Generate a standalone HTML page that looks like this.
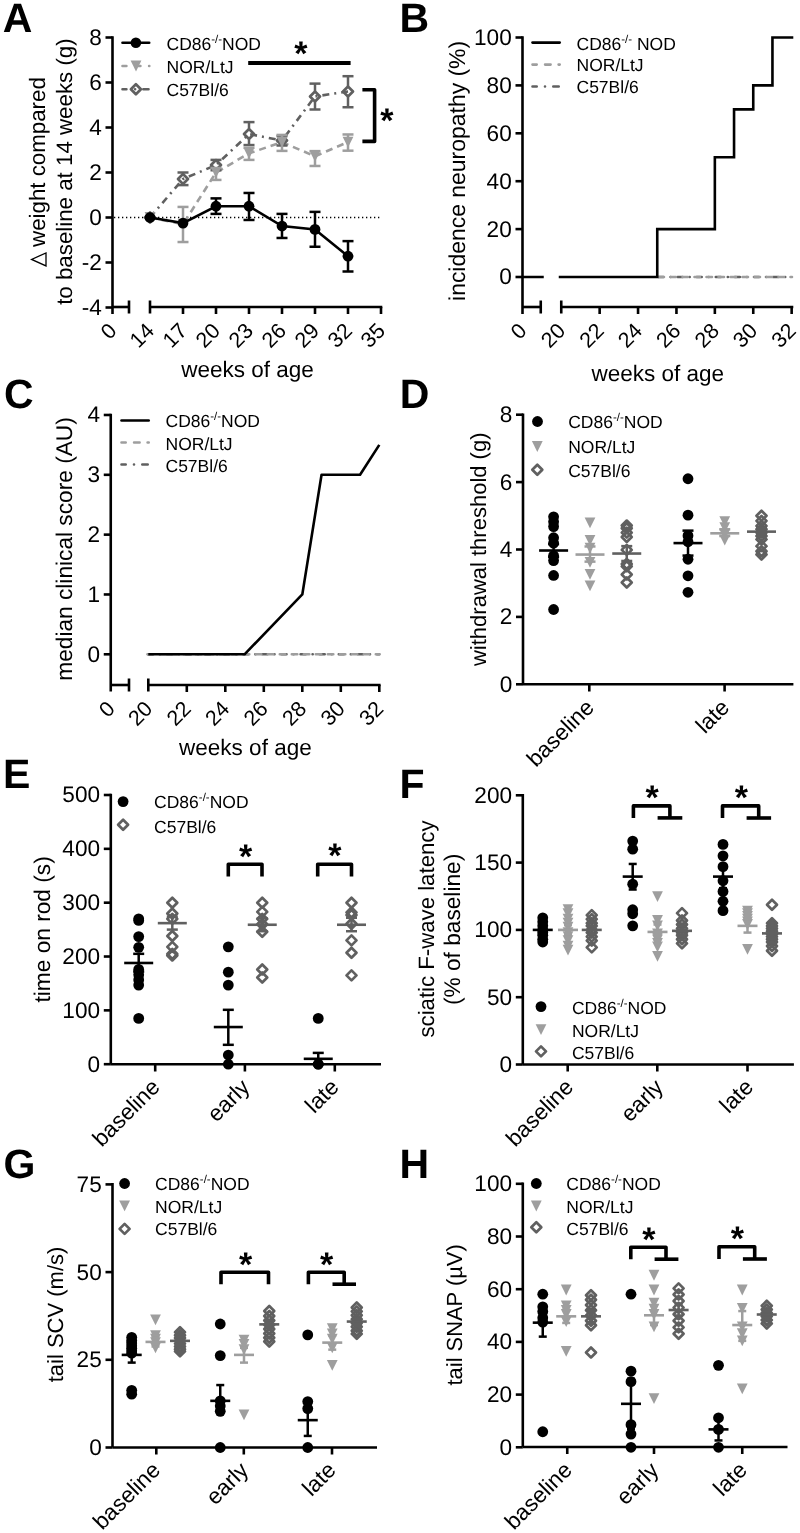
<!DOCTYPE html>
<html><head><meta charset="utf-8"><style>
html,body{margin:0;padding:0;background:#fff;overflow:hidden;}
svg{display:block;filter:grayscale(100%);}
text{font-family:"Liberation Sans",sans-serif;text-rendering:geometricPrecision;}
</style></head><body>
<svg width="800" height="1533" viewBox="0 0 800 1533">
<rect width="800" height="1533" fill="#fff"/>
<text x="2.8" y="32" font-size="41" font-weight="bold">A</text>
<line x1="112.5" y1="36.2" x2="112.5" y2="314" stroke="#000" stroke-width="2.6"/>
<line x1="105.5" y1="37.5" x2="112.5" y2="37.5" stroke="#000" stroke-width="2.6"/>
<text x="101.75" y="44.9" font-size="22.6" text-anchor="end">8</text>
<line x1="105.5" y1="82.5" x2="112.5" y2="82.5" stroke="#000" stroke-width="2.6"/>
<text x="101.75" y="89.9" font-size="22.6" text-anchor="end">6</text>
<line x1="105.5" y1="127.5" x2="112.5" y2="127.5" stroke="#000" stroke-width="2.6"/>
<text x="101.75" y="134.9" font-size="22.6" text-anchor="end">4</text>
<line x1="105.5" y1="172.5" x2="112.5" y2="172.5" stroke="#000" stroke-width="2.6"/>
<text x="101.75" y="179.9" font-size="22.6" text-anchor="end">2</text>
<line x1="105.5" y1="217.5" x2="112.5" y2="217.5" stroke="#000" stroke-width="2.6"/>
<text x="101.75" y="224.9" font-size="22.6" text-anchor="end">0</text>
<line x1="105.5" y1="262.5" x2="112.5" y2="262.5" stroke="#000" stroke-width="2.6"/>
<text x="101.75" y="269.9" font-size="22.6" text-anchor="end">-2</text>
<line x1="105.5" y1="307.5" x2="112.5" y2="307.5" stroke="#000" stroke-width="2.6"/>
<text x="101.75" y="314.9" font-size="22.6" text-anchor="end">-4</text>
<line x1="112.5" y1="307" x2="129" y2="307" stroke="#000" stroke-width="2.6"/>
<line x1="129" y1="300.5" x2="129" y2="313.5" stroke="#000" stroke-width="2.6"/>
<line x1="150" y1="300.5" x2="150" y2="313.5" stroke="#000" stroke-width="2.6"/>
<line x1="150" y1="307" x2="382.3" y2="307" stroke="#000" stroke-width="2.6"/>
<line x1="183" y1="307" x2="183" y2="314" stroke="#000" stroke-width="2.6"/>
<line x1="216" y1="307" x2="216" y2="314" stroke="#000" stroke-width="2.6"/>
<line x1="249" y1="307" x2="249" y2="314" stroke="#000" stroke-width="2.6"/>
<line x1="282" y1="307" x2="282" y2="314" stroke="#000" stroke-width="2.6"/>
<line x1="315" y1="307" x2="315" y2="314" stroke="#000" stroke-width="2.6"/>
<line x1="348" y1="307" x2="348" y2="314" stroke="#000" stroke-width="2.6"/>
<line x1="381" y1="307" x2="381" y2="314" stroke="#000" stroke-width="2.6"/>
<text x="118" y="332" font-size="21.5" text-anchor="end" transform="rotate(-45 118 332)">0</text>
<text x="155.5" y="332" font-size="21.5" text-anchor="end" transform="rotate(-45 155.5 332)">14</text>
<text x="188.5" y="332" font-size="21.5" text-anchor="end" transform="rotate(-45 188.5 332)">17</text>
<text x="221.5" y="332" font-size="21.5" text-anchor="end" transform="rotate(-45 221.5 332)">20</text>
<text x="254.5" y="332" font-size="21.5" text-anchor="end" transform="rotate(-45 254.5 332)">23</text>
<text x="287.5" y="332" font-size="21.5" text-anchor="end" transform="rotate(-45 287.5 332)">26</text>
<text x="320.5" y="332" font-size="21.5" text-anchor="end" transform="rotate(-45 320.5 332)">29</text>
<text x="353.5" y="332" font-size="21.5" text-anchor="end" transform="rotate(-45 353.5 332)">32</text>
<text x="386.5" y="332" font-size="21.5" text-anchor="end" transform="rotate(-45 386.5 332)">35</text>
<text x="247.5" y="377" font-size="22.5" text-anchor="middle">weeks of age</text>
<text x="45.2" y="172" font-size="22.3" text-anchor="middle" transform="rotate(-90 45.2 172)"><tspan fill-opacity="0">&#916;</tspan> weight compared</text>
<path d="M46 252.9 V265.9 L31.6 259.4 Z" stroke="#000" stroke-width="1.3" fill="none" stroke-linejoin="miter"/>
<text x="72.3" y="171.6" font-size="22.3" text-anchor="middle" transform="rotate(-90 72.3 171.6)">to baseline at 14 weeks (g)</text>
<line x1="114" y1="217.5" x2="381" y2="217.5" stroke="#000" stroke-width="1.3" stroke-dasharray="1.3 2.7"/>
<path d="M150 217.5 L183 179.03 L216 165.07 L249 134.03 L282 140.55 L315 96.45 L348 91.5" stroke="#606060" stroke-width="2.6" fill="none" stroke-dasharray="7 5 2 5"/>
<path d="M150 217.5 L183 224.25 L216 172.5 L249 153.38 L282 142.12 L315 156.3 L348 142.12" stroke="#9e9e9e" stroke-width="2.6" fill="none" stroke-dasharray="7 5"/>
<line x1="183" y1="185.1" x2="183" y2="184.53" stroke="#606060" stroke-width="2.5"/>
<line x1="183" y1="173.53" x2="183" y2="172.5" stroke="#606060" stroke-width="2.5"/>
<line x1="177.5" y1="185.1" x2="188.5" y2="185.1" stroke="#606060" stroke-width="2.5"/>
<line x1="177.5" y1="172.5" x2="188.5" y2="172.5" stroke="#606060" stroke-width="2.5"/>
<line x1="216" y1="170.25" x2="216" y2="170.57" stroke="#606060" stroke-width="2.5"/>
<line x1="216" y1="159.57" x2="216" y2="159.9" stroke="#606060" stroke-width="2.5"/>
<line x1="210.5" y1="170.25" x2="221.5" y2="170.25" stroke="#606060" stroke-width="2.5"/>
<line x1="210.5" y1="159.9" x2="221.5" y2="159.9" stroke="#606060" stroke-width="2.5"/>
<line x1="249" y1="145.05" x2="249" y2="139.53" stroke="#606060" stroke-width="2.5"/>
<line x1="249" y1="128.53" x2="249" y2="122.1" stroke="#606060" stroke-width="2.5"/>
<line x1="243.5" y1="145.05" x2="254.5" y2="145.05" stroke="#606060" stroke-width="2.5"/>
<line x1="243.5" y1="122.1" x2="254.5" y2="122.1" stroke="#606060" stroke-width="2.5"/>
<line x1="282" y1="145.5" x2="282" y2="146.05" stroke="#606060" stroke-width="2.5"/>
<line x1="282" y1="135.05" x2="282" y2="136.05" stroke="#606060" stroke-width="2.5"/>
<line x1="276.5" y1="145.5" x2="287.5" y2="145.5" stroke="#606060" stroke-width="2.5"/>
<line x1="276.5" y1="136.05" x2="287.5" y2="136.05" stroke="#606060" stroke-width="2.5"/>
<line x1="315" y1="109.5" x2="315" y2="101.95" stroke="#606060" stroke-width="2.5"/>
<line x1="315" y1="90.95" x2="315" y2="83.62" stroke="#606060" stroke-width="2.5"/>
<line x1="309.5" y1="109.5" x2="320.5" y2="109.5" stroke="#606060" stroke-width="2.5"/>
<line x1="309.5" y1="83.62" x2="320.5" y2="83.62" stroke="#606060" stroke-width="2.5"/>
<line x1="348" y1="107.25" x2="348" y2="97" stroke="#606060" stroke-width="2.5"/>
<line x1="348" y1="86" x2="348" y2="76.2" stroke="#606060" stroke-width="2.5"/>
<line x1="342.5" y1="107.25" x2="353.5" y2="107.25" stroke="#606060" stroke-width="2.5"/>
<line x1="342.5" y1="76.2" x2="353.5" y2="76.2" stroke="#606060" stroke-width="2.5"/>
<path d="M150 212.5L155 217.5L150 222.5L145 217.5Z" fill="none" stroke="#606060" stroke-width="2.7" stroke-linejoin="round"/>
<path d="M183 174.03L188 179.03L183 184.03L178 179.03Z" fill="none" stroke="#606060" stroke-width="2.7" stroke-linejoin="round"/>
<path d="M216 160.07L221 165.07L216 170.07L211 165.07Z" fill="none" stroke="#606060" stroke-width="2.7" stroke-linejoin="round"/>
<path d="M249 129.03L254 134.03L249 139.03L244 134.03Z" fill="none" stroke="#606060" stroke-width="2.7" stroke-linejoin="round"/>
<path d="M282 135.55L287 140.55L282 145.55L277 140.55Z" fill="none" stroke="#606060" stroke-width="2.7" stroke-linejoin="round"/>
<path d="M315 91.45L320 96.45L315 101.45L310 96.45Z" fill="none" stroke="#606060" stroke-width="2.7" stroke-linejoin="round"/>
<path d="M348 86.5L353 91.5L348 96.5L343 91.5Z" fill="none" stroke="#606060" stroke-width="2.7" stroke-linejoin="round"/>
<line x1="183" y1="242.03" x2="183" y2="206.93" stroke="#9e9e9e" stroke-width="2.5"/>
<line x1="177.5" y1="242.03" x2="188.5" y2="242.03" stroke="#9e9e9e" stroke-width="2.5"/>
<line x1="177.5" y1="206.93" x2="188.5" y2="206.93" stroke="#9e9e9e" stroke-width="2.5"/>
<line x1="216" y1="179.93" x2="216" y2="168" stroke="#9e9e9e" stroke-width="2.5"/>
<line x1="210.5" y1="179.93" x2="221.5" y2="179.93" stroke="#9e9e9e" stroke-width="2.5"/>
<line x1="210.5" y1="168" x2="221.5" y2="168" stroke="#9e9e9e" stroke-width="2.5"/>
<line x1="249" y1="159.9" x2="249" y2="147.75" stroke="#9e9e9e" stroke-width="2.5"/>
<line x1="243.5" y1="159.9" x2="254.5" y2="159.9" stroke="#9e9e9e" stroke-width="2.5"/>
<line x1="243.5" y1="147.75" x2="254.5" y2="147.75" stroke="#9e9e9e" stroke-width="2.5"/>
<line x1="282" y1="150.9" x2="282" y2="134.93" stroke="#9e9e9e" stroke-width="2.5"/>
<line x1="276.5" y1="150.9" x2="287.5" y2="150.9" stroke="#9e9e9e" stroke-width="2.5"/>
<line x1="276.5" y1="134.93" x2="287.5" y2="134.93" stroke="#9e9e9e" stroke-width="2.5"/>
<line x1="315" y1="165.97" x2="315" y2="151.12" stroke="#9e9e9e" stroke-width="2.5"/>
<line x1="309.5" y1="165.97" x2="320.5" y2="165.97" stroke="#9e9e9e" stroke-width="2.5"/>
<line x1="309.5" y1="151.12" x2="320.5" y2="151.12" stroke="#9e9e9e" stroke-width="2.5"/>
<line x1="348" y1="150.68" x2="348" y2="134.47" stroke="#9e9e9e" stroke-width="2.5"/>
<line x1="342.5" y1="150.68" x2="353.5" y2="150.68" stroke="#9e9e9e" stroke-width="2.5"/>
<line x1="342.5" y1="134.47" x2="353.5" y2="134.47" stroke="#9e9e9e" stroke-width="2.5"/>
<path d="M144.6 212.1H155.4L150 222.9Z" fill="#9e9e9e"/>
<path d="M177.6 218.85H188.4L183 229.65Z" fill="#9e9e9e"/>
<path d="M210.6 167.1H221.4L216 177.9Z" fill="#9e9e9e"/>
<path d="M243.6 147.97H254.4L249 158.78Z" fill="#9e9e9e"/>
<path d="M276.6 136.72H287.4L282 147.53Z" fill="#9e9e9e"/>
<path d="M309.6 150.9H320.4L315 161.7Z" fill="#9e9e9e"/>
<path d="M342.6 136.72H353.4L348 147.53Z" fill="#9e9e9e"/>
<path d="M150 217.5 L183 223.12 L216 206.25 L249 206.25 L282 226.05 L315 229.43 L348 256.2" stroke="#000" stroke-width="2.6" fill="none"/>
<line x1="216" y1="213.9" x2="216" y2="198.38" stroke="#000" stroke-width="2.5"/>
<line x1="210.5" y1="213.9" x2="221.5" y2="213.9" stroke="#000" stroke-width="2.5"/>
<line x1="210.5" y1="198.38" x2="221.5" y2="198.38" stroke="#000" stroke-width="2.5"/>
<line x1="249" y1="219.97" x2="249" y2="192.97" stroke="#000" stroke-width="2.5"/>
<line x1="243.5" y1="219.97" x2="254.5" y2="219.97" stroke="#000" stroke-width="2.5"/>
<line x1="243.5" y1="192.97" x2="254.5" y2="192.97" stroke="#000" stroke-width="2.5"/>
<line x1="282" y1="237.97" x2="282" y2="213.9" stroke="#000" stroke-width="2.5"/>
<line x1="276.5" y1="237.97" x2="287.5" y2="237.97" stroke="#000" stroke-width="2.5"/>
<line x1="276.5" y1="213.9" x2="287.5" y2="213.9" stroke="#000" stroke-width="2.5"/>
<line x1="315" y1="246.75" x2="315" y2="211.88" stroke="#000" stroke-width="2.5"/>
<line x1="309.5" y1="246.75" x2="320.5" y2="246.75" stroke="#000" stroke-width="2.5"/>
<line x1="309.5" y1="211.88" x2="320.5" y2="211.88" stroke="#000" stroke-width="2.5"/>
<line x1="348" y1="271.5" x2="348" y2="241.12" stroke="#000" stroke-width="2.5"/>
<line x1="342.5" y1="271.5" x2="353.5" y2="271.5" stroke="#000" stroke-width="2.5"/>
<line x1="342.5" y1="241.12" x2="353.5" y2="241.12" stroke="#000" stroke-width="2.5"/>
<circle cx="150" cy="217.5" r="5.4" fill="#000"/>
<circle cx="183" cy="223.12" r="5.4" fill="#000"/>
<circle cx="216" cy="206.25" r="5.4" fill="#000"/>
<circle cx="249" cy="206.25" r="5.4" fill="#000"/>
<circle cx="282" cy="226.05" r="5.4" fill="#000"/>
<circle cx="315" cy="229.43" r="5.4" fill="#000"/>
<circle cx="348" cy="256.2" r="5.4" fill="#000"/>
<line x1="248.2" y1="63" x2="350.6" y2="63" stroke="#000" stroke-width="4"/>
<text x="294.37" y="65.47" font-size="34" font-weight="bold">*</text>
<path d="M362.4 89.8 H374.6 V141.4 H362.4" stroke="#000" stroke-width="3.6" fill="none" stroke-linejoin="round"/>
<text x="380.37" y="132.17" font-size="34" font-weight="bold">*</text>
<path d="M122.5 42.8H149.21" stroke="#000" stroke-width="2.6" stroke-linecap="round" fill="none"/>
<circle cx="135.9" cy="42.8" r="5.3" fill="#000"/>
<path d="M122.5 66H126.41M138.5 66H140.41M149.1 66H149.31" stroke="#9e9e9e" stroke-width="2.6" stroke-linecap="round" fill="none"/>
<path d="M130.6 60.6H141.4L136 71.4Z" fill="#9e9e9e"/>
<path d="M122.5 89.2H126.41M135.1 89.2H135.11M143.3 89.2H148.51" stroke="#606060" stroke-width="2.6" stroke-linecap="round" fill="none"/>
<path d="M135.9 84.2L140.9 89.2L135.9 94.2L130.9 89.2Z" fill="none" stroke="#606060" stroke-width="2.7" stroke-linejoin="round"/>
<text x="166.5" y="49.7" font-size="17.5">CD86<tspan font-size="11.5" dy="-7">-/-</tspan><tspan dy="7">NOD</tspan></text>
<text x="166.5" y="72.7" font-size="17.5">NOR/LtJ</text>
<text x="166.5" y="95.7" font-size="17.5">C57Bl/6</text>
<text x="399.6" y="32" font-size="41" font-weight="bold">B</text>
<line x1="522.5" y1="36.2" x2="522.5" y2="314" stroke="#000" stroke-width="2.6"/>
<line x1="515.5" y1="37.5" x2="522.5" y2="37.5" stroke="#000" stroke-width="2.6"/>
<text x="511.75" y="44.9" font-size="22.6" text-anchor="end">100</text>
<line x1="515.5" y1="85.4" x2="522.5" y2="85.4" stroke="#000" stroke-width="2.6"/>
<text x="511.75" y="92.8" font-size="22.6" text-anchor="end">80</text>
<line x1="515.5" y1="133.3" x2="522.5" y2="133.3" stroke="#000" stroke-width="2.6"/>
<text x="511.75" y="140.7" font-size="22.6" text-anchor="end">60</text>
<line x1="515.5" y1="181.2" x2="522.5" y2="181.2" stroke="#000" stroke-width="2.6"/>
<text x="511.75" y="188.6" font-size="22.6" text-anchor="end">40</text>
<line x1="515.5" y1="229.1" x2="522.5" y2="229.1" stroke="#000" stroke-width="2.6"/>
<text x="511.75" y="236.5" font-size="22.6" text-anchor="end">20</text>
<line x1="515.5" y1="277" x2="522.5" y2="277" stroke="#000" stroke-width="2.6"/>
<text x="511.75" y="284.4" font-size="22.6" text-anchor="end">0</text>
<line x1="522.5" y1="307" x2="540.75" y2="307" stroke="#000" stroke-width="2.6"/>
<line x1="540.75" y1="300.5" x2="540.75" y2="313.5" stroke="#000" stroke-width="2.6"/>
<line x1="561.25" y1="300.5" x2="561.25" y2="313.5" stroke="#000" stroke-width="2.6"/>
<line x1="561.25" y1="307" x2="793.3" y2="307" stroke="#000" stroke-width="2.6"/>
<line x1="599.65" y1="307" x2="599.65" y2="314" stroke="#000" stroke-width="2.6"/>
<line x1="638.05" y1="307" x2="638.05" y2="314" stroke="#000" stroke-width="2.6"/>
<line x1="676.45" y1="307" x2="676.45" y2="314" stroke="#000" stroke-width="2.6"/>
<line x1="714.85" y1="307" x2="714.85" y2="314" stroke="#000" stroke-width="2.6"/>
<line x1="753.25" y1="307" x2="753.25" y2="314" stroke="#000" stroke-width="2.6"/>
<line x1="791.65" y1="307" x2="791.65" y2="314" stroke="#000" stroke-width="2.6"/>
<text x="528" y="332" font-size="21.5" text-anchor="end" transform="rotate(-45 528 332)">0</text>
<text x="566.75" y="332" font-size="21.5" text-anchor="end" transform="rotate(-45 566.75 332)">20</text>
<text x="605.15" y="332" font-size="21.5" text-anchor="end" transform="rotate(-45 605.15 332)">22</text>
<text x="643.55" y="332" font-size="21.5" text-anchor="end" transform="rotate(-45 643.55 332)">24</text>
<text x="681.95" y="332" font-size="21.5" text-anchor="end" transform="rotate(-45 681.95 332)">26</text>
<text x="720.35" y="332" font-size="21.5" text-anchor="end" transform="rotate(-45 720.35 332)">28</text>
<text x="758.75" y="332" font-size="21.5" text-anchor="end" transform="rotate(-45 758.75 332)">30</text>
<text x="797.15" y="332" font-size="21.5" text-anchor="end" transform="rotate(-45 797.15 332)">32</text>
<text x="657.75" y="380.5" font-size="22.5" text-anchor="middle">weeks of age</text>
<text x="465.4" y="170.9" font-size="22.95" text-anchor="middle" transform="rotate(-90 465.4 170.9)">incidence neuropathy (%)</text>
<line x1="658.5" y1="277" x2="792" y2="277" stroke="#606060" stroke-width="2.6" stroke-dasharray="5 7 0.1 7" stroke-linecap="round"/>
<line x1="658.5" y1="277" x2="792" y2="277" stroke="#9e9e9e" stroke-width="2.6" stroke-dasharray="5.5 6.5" stroke-linecap="round"/>
<path d="M523 277 H543.75 M558.75 277 H657.25 V229.1 H714.85 V157.25 H734.05 V109.35 H753.25 V85.4 H772.45 V37.5 H793.3" stroke="#000" stroke-width="2.6" fill="none"/>
<path d="M532.5 42.6H559.71" stroke="#000" stroke-width="2.6" stroke-linecap="round" fill="none"/>
<path d="M532.5 64.6H536.71M545.1 64.6H550.61M558.6 64.6H559.71" stroke="#9e9e9e" stroke-width="2.6" stroke-linecap="round" fill="none"/>
<path d="M532.5 86.5H536.71M545 86.5H545.01M553.3 86.5H558.71" stroke="#606060" stroke-width="2.6" stroke-linecap="round" fill="none"/>
<text x="576.5" y="49.7" font-size="17.5">CD86<tspan font-size="11.5" dy="-7">-/-</tspan><tspan dy="7"> NOD</tspan></text>
<text x="576.5" y="71.2" font-size="17.5">NOR/LtJ</text>
<text x="576.5" y="92.7" font-size="17.5">C57Bl/6</text>
<text x="3.9" y="408" font-size="41" font-weight="bold">C</text>
<line x1="110.75" y1="413.68" x2="110.75" y2="691.5" stroke="#000" stroke-width="2.6"/>
<line x1="103.75" y1="414.98" x2="110.75" y2="414.98" stroke="#000" stroke-width="2.6"/>
<text x="100" y="422.38" font-size="22.6" text-anchor="end">4</text>
<line x1="103.75" y1="474.81" x2="110.75" y2="474.81" stroke="#000" stroke-width="2.6"/>
<text x="100" y="482.21" font-size="22.6" text-anchor="end">3</text>
<line x1="103.75" y1="534.64" x2="110.75" y2="534.64" stroke="#000" stroke-width="2.6"/>
<text x="100" y="542.04" font-size="22.6" text-anchor="end">2</text>
<line x1="103.75" y1="594.47" x2="110.75" y2="594.47" stroke="#000" stroke-width="2.6"/>
<text x="100" y="601.87" font-size="22.6" text-anchor="end">1</text>
<line x1="103.75" y1="654.3" x2="110.75" y2="654.3" stroke="#000" stroke-width="2.6"/>
<text x="100" y="661.7" font-size="22.6" text-anchor="end">0</text>
<line x1="110.75" y1="685" x2="129" y2="685" stroke="#000" stroke-width="2.6"/>
<line x1="129" y1="678.5" x2="129" y2="691.5" stroke="#000" stroke-width="2.6"/>
<line x1="148.3" y1="678.5" x2="148.3" y2="691.5" stroke="#000" stroke-width="2.6"/>
<line x1="148.3" y1="685" x2="380.6" y2="685" stroke="#000" stroke-width="2.6"/>
<line x1="186.8" y1="685" x2="186.8" y2="692" stroke="#000" stroke-width="2.6"/>
<line x1="225.3" y1="685" x2="225.3" y2="692" stroke="#000" stroke-width="2.6"/>
<line x1="263.8" y1="685" x2="263.8" y2="692" stroke="#000" stroke-width="2.6"/>
<line x1="302.3" y1="685" x2="302.3" y2="692" stroke="#000" stroke-width="2.6"/>
<line x1="340.8" y1="685" x2="340.8" y2="692" stroke="#000" stroke-width="2.6"/>
<line x1="379.3" y1="685" x2="379.3" y2="692" stroke="#000" stroke-width="2.6"/>
<text x="116.25" y="710" font-size="21.5" text-anchor="end" transform="rotate(-45 116.25 710)">0</text>
<text x="153.8" y="710" font-size="21.5" text-anchor="end" transform="rotate(-45 153.8 710)">20</text>
<text x="192.3" y="710" font-size="21.5" text-anchor="end" transform="rotate(-45 192.3 710)">22</text>
<text x="230.8" y="710" font-size="21.5" text-anchor="end" transform="rotate(-45 230.8 710)">24</text>
<text x="269.3" y="710" font-size="21.5" text-anchor="end" transform="rotate(-45 269.3 710)">26</text>
<text x="307.8" y="710" font-size="21.5" text-anchor="end" transform="rotate(-45 307.8 710)">28</text>
<text x="346.3" y="710" font-size="21.5" text-anchor="end" transform="rotate(-45 346.3 710)">30</text>
<text x="384.8" y="710" font-size="21.5" text-anchor="end" transform="rotate(-45 384.8 710)">32</text>
<text x="245.4" y="754.8" font-size="22.5" text-anchor="middle">weeks of age</text>
<text x="71.8" y="549" font-size="22.7" text-anchor="middle" transform="rotate(-90 71.8 549)">median clinical score (AU)</text>
<line x1="147.8" y1="654.3" x2="379.3" y2="654.3" stroke="#606060" stroke-width="2.6" stroke-dasharray="5 7 0.1 7" stroke-linecap="round"/>
<line x1="147.8" y1="654.3" x2="379.3" y2="654.3" stroke="#9e9e9e" stroke-width="2.6" stroke-dasharray="5.5 6.5" stroke-linecap="round"/>
<path d="M148.3 654.3 L244.55 654.3 L302.3 594.47 L321.55 474.81 L360.05 474.81 L379.3 444.89" stroke="#000" stroke-width="2.6" fill="none" stroke-linejoin="round"/>
<path d="M121.5 420.5H148.71" stroke="#000" stroke-width="2.6" stroke-linecap="round" fill="none"/>
<path d="M121.5 442.5H125.71M134.1 442.5H139.61M147.6 442.5H148.71" stroke="#9e9e9e" stroke-width="2.6" stroke-linecap="round" fill="none"/>
<path d="M121.5 464.5H125.71M134 464.5H134.01M142.3 464.5H147.71" stroke="#606060" stroke-width="2.6" stroke-linecap="round" fill="none"/>
<text x="165.5" y="426.5" font-size="17.5">CD86<tspan font-size="11.5" dy="-7">-/-</tspan><tspan dy="7">NOD</tspan></text>
<text x="165.5" y="450" font-size="17.5">NOR/LtJ</text>
<text x="165.5" y="471.5" font-size="17.5">C57Bl/6</text>
<text x="399.8" y="407.8" font-size="41" font-weight="bold">D</text>
<line x1="523" y1="413.4" x2="523" y2="684.3" stroke="#000" stroke-width="2.6"/>
<line x1="516" y1="414.7" x2="523" y2="414.7" stroke="#000" stroke-width="2.6"/>
<text x="512.25" y="422.1" font-size="22.6" text-anchor="end">8</text>
<line x1="516" y1="482.1" x2="523" y2="482.1" stroke="#000" stroke-width="2.6"/>
<text x="512.25" y="489.5" font-size="22.6" text-anchor="end">6</text>
<line x1="516" y1="549.5" x2="523" y2="549.5" stroke="#000" stroke-width="2.6"/>
<text x="512.25" y="556.9" font-size="22.6" text-anchor="end">4</text>
<line x1="516" y1="616.9" x2="523" y2="616.9" stroke="#000" stroke-width="2.6"/>
<text x="512.25" y="624.3" font-size="22.6" text-anchor="end">2</text>
<line x1="516" y1="684.3" x2="523" y2="684.3" stroke="#000" stroke-width="2.6"/>
<text x="512.25" y="691.7" font-size="22.6" text-anchor="end">0</text>
<line x1="523" y1="684.3" x2="793.4" y2="684.3" stroke="#000" stroke-width="2.6"/>
<line x1="589.3" y1="684.3" x2="589.3" y2="691.5" stroke="#000" stroke-width="2.6"/>
<line x1="724.6" y1="684.3" x2="724.6" y2="691.5" stroke="#000" stroke-width="2.6"/>
<text x="595.3" y="708.8" font-size="22.5" text-anchor="end" transform="rotate(-45 595.3 708.8)">baseline</text>
<text x="730.6" y="708.8" font-size="22.5" text-anchor="end" transform="rotate(-45 730.6 708.8)">late</text>
<text x="485.8" y="549.25" font-size="22.0" text-anchor="middle" transform="rotate(-90 485.8 549.25)">withdrawal threshold (g)</text>
<circle cx="553.6" cy="516.81" r="5.4" fill="#000"/>
<circle cx="553.6" cy="521.87" r="5.4" fill="#000"/>
<circle cx="553.6" cy="526.58" r="5.4" fill="#000"/>
<circle cx="553.6" cy="537.7" r="5.4" fill="#000"/>
<circle cx="553.6" cy="543.1" r="5.4" fill="#000"/>
<circle cx="553.6" cy="555.57" r="5.4" fill="#000"/>
<circle cx="553.6" cy="560.62" r="5.4" fill="#000"/>
<circle cx="553.6" cy="575.45" r="5.4" fill="#000"/>
<circle cx="553.6" cy="609.49" r="5.4" fill="#000"/>
<line x1="553.6" y1="556.91" x2="553.6" y2="544.11" stroke="#000" stroke-width="2.5"/>
<line x1="548.1" y1="556.91" x2="559.1" y2="556.91" stroke="#000" stroke-width="2.5"/>
<line x1="548.1" y1="544.11" x2="559.1" y2="544.11" stroke="#000" stroke-width="2.5"/>
<line x1="539.1" y1="550.51" x2="568.1" y2="550.51" stroke="#000" stroke-width="2.6"/>
<path d="M584.6 517.48H595.4L590 528.28Z" fill="#9e9e9e"/>
<path d="M584.6 535H595.4L590 545.8Z" fill="#9e9e9e"/>
<path d="M584.6 542.75H595.4L590 553.55Z" fill="#9e9e9e"/>
<path d="M584.6 556.91H595.4L590 567.71Z" fill="#9e9e9e"/>
<path d="M584.6 569.04H595.4L590 579.84Z" fill="#9e9e9e"/>
<path d="M584.6 580.5H595.4L590 591.3Z" fill="#9e9e9e"/>
<line x1="590" y1="561.63" x2="590" y2="546.47" stroke="#9e9e9e" stroke-width="2.5"/>
<line x1="584.5" y1="561.63" x2="595.5" y2="561.63" stroke="#9e9e9e" stroke-width="2.5"/>
<line x1="584.5" y1="546.47" x2="595.5" y2="546.47" stroke="#9e9e9e" stroke-width="2.5"/>
<line x1="575.5" y1="554.55" x2="604.5" y2="554.55" stroke="#9e9e9e" stroke-width="2.6"/>
<path d="M626.75 520.57L631.75 525.57L626.75 530.57L621.75 525.57Z" fill="none" stroke="#606060" stroke-width="2.7" stroke-linejoin="round"/>
<path d="M626.75 523.27L631.75 528.27L626.75 533.27L621.75 528.27Z" fill="none" stroke="#606060" stroke-width="2.7" stroke-linejoin="round"/>
<path d="M626.75 527.65L631.75 532.65L626.75 537.65L621.75 532.65Z" fill="none" stroke="#606060" stroke-width="2.7" stroke-linejoin="round"/>
<path d="M626.75 532.03L631.75 537.03L626.75 542.03L621.75 537.03Z" fill="none" stroke="#606060" stroke-width="2.7" stroke-linejoin="round"/>
<path d="M626.75 544.84L631.75 549.84L626.75 554.84L621.75 549.84Z" fill="none" stroke="#606060" stroke-width="2.7" stroke-linejoin="round"/>
<path d="M626.75 558.99L631.75 563.99L626.75 568.99L621.75 563.99Z" fill="none" stroke="#606060" stroke-width="2.7" stroke-linejoin="round"/>
<path d="M626.75 561.35L631.75 566.35L626.75 571.35L621.75 566.35Z" fill="none" stroke="#606060" stroke-width="2.7" stroke-linejoin="round"/>
<path d="M626.75 569.44L631.75 574.44L626.75 579.44L621.75 574.44Z" fill="none" stroke="#606060" stroke-width="2.7" stroke-linejoin="round"/>
<path d="M626.75 577.53L631.75 582.53L626.75 587.53L621.75 582.53Z" fill="none" stroke="#606060" stroke-width="2.7" stroke-linejoin="round"/>
<line x1="626.75" y1="560.96" x2="626.75" y2="546.13" stroke="#606060" stroke-width="2.5"/>
<line x1="621.25" y1="560.96" x2="632.25" y2="560.96" stroke="#606060" stroke-width="2.5"/>
<line x1="621.25" y1="546.13" x2="632.25" y2="546.13" stroke="#606060" stroke-width="2.5"/>
<line x1="612.25" y1="553.54" x2="641.25" y2="553.54" stroke="#606060" stroke-width="2.6"/>
<circle cx="688" cy="478.73" r="5.4" fill="#000"/>
<circle cx="688" cy="515.13" r="5.4" fill="#000"/>
<circle cx="688" cy="535.68" r="5.4" fill="#000"/>
<circle cx="688" cy="541.75" r="5.4" fill="#000"/>
<circle cx="688" cy="559.27" r="5.4" fill="#000"/>
<circle cx="688" cy="575.79" r="5.4" fill="#000"/>
<circle cx="688" cy="592.3" r="5.4" fill="#000"/>
<line x1="688" y1="555.57" x2="688" y2="530.63" stroke="#000" stroke-width="2.5"/>
<line x1="682.5" y1="555.57" x2="693.5" y2="555.57" stroke="#000" stroke-width="2.5"/>
<line x1="682.5" y1="530.63" x2="693.5" y2="530.63" stroke="#000" stroke-width="2.5"/>
<line x1="673.5" y1="543.1" x2="702.5" y2="543.1" stroke="#000" stroke-width="2.6"/>
<path d="M719.35 516.13H730.15L724.75 526.93Z" fill="#9e9e9e"/>
<path d="M719.35 522.19H730.15L724.75 532.99Z" fill="#9e9e9e"/>
<path d="M719.35 529.27H730.15L724.75 540.07Z" fill="#9e9e9e"/>
<path d="M719.35 534.66H730.15L724.75 545.46Z" fill="#9e9e9e"/>
<line x1="724.75" y1="536.02" x2="724.75" y2="529.28" stroke="#9e9e9e" stroke-width="2.5"/>
<line x1="719.25" y1="536.02" x2="730.25" y2="536.02" stroke="#9e9e9e" stroke-width="2.5"/>
<line x1="719.25" y1="529.28" x2="730.25" y2="529.28" stroke="#9e9e9e" stroke-width="2.5"/>
<line x1="710.25" y1="533.32" x2="739.25" y2="533.32" stroke="#9e9e9e" stroke-width="2.6"/>
<path d="M761.5 510.8L766.5 515.8L761.5 520.8L756.5 515.8Z" fill="none" stroke="#606060" stroke-width="2.7" stroke-linejoin="round"/>
<path d="M761.5 515.86L766.5 520.86L761.5 525.86L756.5 520.86Z" fill="none" stroke="#606060" stroke-width="2.7" stroke-linejoin="round"/>
<path d="M761.5 520.91L766.5 525.91L761.5 530.91L756.5 525.91Z" fill="none" stroke="#606060" stroke-width="2.7" stroke-linejoin="round"/>
<path d="M761.5 524.28L766.5 529.28L761.5 534.28L756.5 529.28Z" fill="none" stroke="#606060" stroke-width="2.7" stroke-linejoin="round"/>
<path d="M761.5 527.65L766.5 532.65L761.5 537.65L756.5 532.65Z" fill="none" stroke="#606060" stroke-width="2.7" stroke-linejoin="round"/>
<path d="M761.5 531.02L766.5 536.02L761.5 541.02L756.5 536.02Z" fill="none" stroke="#606060" stroke-width="2.7" stroke-linejoin="round"/>
<path d="M761.5 534.39L766.5 539.39L761.5 544.39L756.5 539.39Z" fill="none" stroke="#606060" stroke-width="2.7" stroke-linejoin="round"/>
<path d="M761.5 541.13L766.5 546.13L761.5 551.13L756.5 546.13Z" fill="none" stroke="#606060" stroke-width="2.7" stroke-linejoin="round"/>
<path d="M761.5 546.18L766.5 551.18L761.5 556.18L756.5 551.18Z" fill="none" stroke="#606060" stroke-width="2.7" stroke-linejoin="round"/>
<path d="M761.5 549.55L766.5 554.55L761.5 559.55L756.5 554.55Z" fill="none" stroke="#606060" stroke-width="2.7" stroke-linejoin="round"/>
<line x1="761.5" y1="535.35" x2="761.5" y2="527.93" stroke="#606060" stroke-width="2.5"/>
<line x1="756" y1="535.35" x2="767" y2="535.35" stroke="#606060" stroke-width="2.5"/>
<line x1="756" y1="527.93" x2="767" y2="527.93" stroke="#606060" stroke-width="2.5"/>
<line x1="747" y1="531.64" x2="776" y2="531.64" stroke="#606060" stroke-width="2.6"/>
<circle cx="537.5" cy="421.5" r="5.4" fill="#000"/>
<path d="M531.9 441.1H542.7L537.3 451.9Z" fill="#9e9e9e"/>
<path d="M537.3 464.7L542.3 469.7L537.3 474.7L532.3 469.7Z" fill="none" stroke="#606060" stroke-width="2.7" stroke-linejoin="round"/>
<text x="568.2" y="428" font-size="17.5">CD86<tspan font-size="11.5" dy="-7">-/-</tspan><tspan dy="7">NOD</tspan></text>
<text x="568.2" y="452.5" font-size="17.5">NOR/LtJ</text>
<text x="568.2" y="476.5" font-size="17.5">C57Bl/6</text>
<text x="3.1" y="787.6" font-size="41" font-weight="bold">E</text>
<line x1="110.8" y1="793.7" x2="110.8" y2="1064.2" stroke="#000" stroke-width="2.6"/>
<line x1="103.8" y1="795" x2="110.8" y2="795" stroke="#000" stroke-width="2.6"/>
<text x="100.05" y="802.4" font-size="22.6" text-anchor="end">500</text>
<line x1="103.8" y1="848.84" x2="110.8" y2="848.84" stroke="#000" stroke-width="2.6"/>
<text x="100.05" y="856.24" font-size="22.6" text-anchor="end">400</text>
<line x1="103.8" y1="902.68" x2="110.8" y2="902.68" stroke="#000" stroke-width="2.6"/>
<text x="100.05" y="910.08" font-size="22.6" text-anchor="end">300</text>
<line x1="103.8" y1="956.52" x2="110.8" y2="956.52" stroke="#000" stroke-width="2.6"/>
<text x="100.05" y="963.92" font-size="22.6" text-anchor="end">200</text>
<line x1="103.8" y1="1010.36" x2="110.8" y2="1010.36" stroke="#000" stroke-width="2.6"/>
<text x="100.05" y="1017.76" font-size="22.6" text-anchor="end">100</text>
<line x1="103.8" y1="1064.2" x2="110.8" y2="1064.2" stroke="#000" stroke-width="2.6"/>
<text x="100.05" y="1071.6" font-size="22.6" text-anchor="end">0</text>
<line x1="110.8" y1="1064.2" x2="381" y2="1064.2" stroke="#000" stroke-width="2.6"/>
<line x1="155.2" y1="1064.2" x2="155.2" y2="1071.5" stroke="#000" stroke-width="2.6"/>
<line x1="244.9" y1="1064.2" x2="244.9" y2="1071.5" stroke="#000" stroke-width="2.6"/>
<line x1="334.8" y1="1064.2" x2="334.8" y2="1071.5" stroke="#000" stroke-width="2.6"/>
<text x="161" y="1088.5" font-size="22.5" text-anchor="end" transform="rotate(-45 161 1088.5)">baseline</text>
<text x="251" y="1088.5" font-size="22.5" text-anchor="end" transform="rotate(-45 251 1088.5)">early</text>
<text x="340" y="1088.5" font-size="22.5" text-anchor="end" transform="rotate(-45 340 1088.5)">late</text>
<text x="50.3" y="929.4" font-size="22.7" text-anchor="middle" transform="rotate(-90 50.3 929.4)">time on rod (s)</text>
<circle cx="138.7" cy="918.83" r="5.4" fill="#000"/>
<circle cx="138.7" cy="920.45" r="5.4" fill="#000"/>
<circle cx="138.7" cy="936.6" r="5.4" fill="#000"/>
<circle cx="138.7" cy="947.37" r="5.4" fill="#000"/>
<circle cx="138.7" cy="969.44" r="5.4" fill="#000"/>
<circle cx="138.7" cy="974.83" r="5.4" fill="#000"/>
<circle cx="138.7" cy="979.94" r="5.4" fill="#000"/>
<circle cx="138.7" cy="985.06" r="5.4" fill="#000"/>
<circle cx="138.7" cy="1018.44" r="5.4" fill="#000"/>
<line x1="138.7" y1="971.6" x2="138.7" y2="953.83" stroke="#000" stroke-width="2.5"/>
<line x1="133.2" y1="971.6" x2="144.2" y2="971.6" stroke="#000" stroke-width="2.5"/>
<line x1="133.2" y1="953.83" x2="144.2" y2="953.83" stroke="#000" stroke-width="2.5"/>
<line x1="124.2" y1="962.98" x2="153.2" y2="962.98" stroke="#000" stroke-width="2.6"/>
<path d="M172.3 897.68L177.3 902.68L172.3 907.68L167.3 902.68Z" fill="none" stroke="#606060" stroke-width="2.7" stroke-linejoin="round"/>
<path d="M172.3 908.45L177.3 913.45L172.3 918.45L167.3 913.45Z" fill="none" stroke="#606060" stroke-width="2.7" stroke-linejoin="round"/>
<path d="M172.3 913.83L177.3 918.83L172.3 923.83L167.3 918.83Z" fill="none" stroke="#606060" stroke-width="2.7" stroke-linejoin="round"/>
<path d="M172.3 931.06L177.3 936.06L172.3 941.06L167.3 936.06Z" fill="none" stroke="#606060" stroke-width="2.7" stroke-linejoin="round"/>
<path d="M172.3 941.83L177.3 946.83L172.3 951.83L167.3 946.83Z" fill="none" stroke="#606060" stroke-width="2.7" stroke-linejoin="round"/>
<path d="M172.3 948.83L177.3 953.83L172.3 958.83L167.3 953.83Z" fill="none" stroke="#606060" stroke-width="2.7" stroke-linejoin="round"/>
<path d="M172.3 950.44L177.3 955.44L172.3 960.44L167.3 955.44Z" fill="none" stroke="#606060" stroke-width="2.7" stroke-linejoin="round"/>
<line x1="172.3" y1="929.6" x2="172.3" y2="916.68" stroke="#606060" stroke-width="2.5"/>
<line x1="166.8" y1="929.6" x2="177.8" y2="929.6" stroke="#606060" stroke-width="2.5"/>
<line x1="166.8" y1="916.68" x2="177.8" y2="916.68" stroke="#606060" stroke-width="2.5"/>
<line x1="157.8" y1="923.14" x2="186.8" y2="923.14" stroke="#606060" stroke-width="2.6"/>
<circle cx="228.3" cy="946.83" r="5.4" fill="#000"/>
<circle cx="228.3" cy="972.13" r="5.4" fill="#000"/>
<circle cx="228.3" cy="985.06" r="5.4" fill="#000"/>
<circle cx="228.3" cy="1055.05" r="5.4" fill="#000"/>
<circle cx="228.3" cy="1064.2" r="5.4" fill="#000"/>
<line x1="228.3" y1="1044.82" x2="228.3" y2="1009.82" stroke="#000" stroke-width="2.5"/>
<line x1="222.8" y1="1044.82" x2="233.8" y2="1044.82" stroke="#000" stroke-width="2.5"/>
<line x1="222.8" y1="1009.82" x2="233.8" y2="1009.82" stroke="#000" stroke-width="2.5"/>
<line x1="213.8" y1="1027.05" x2="242.8" y2="1027.05" stroke="#000" stroke-width="2.6"/>
<path d="M262.25 897.68L267.25 902.68L262.25 907.68L257.25 902.68Z" fill="none" stroke="#606060" stroke-width="2.7" stroke-linejoin="round"/>
<path d="M262.25 906.83L267.25 911.83L262.25 916.83L257.25 911.83Z" fill="none" stroke="#606060" stroke-width="2.7" stroke-linejoin="round"/>
<path d="M262.25 913.83L267.25 918.83L262.25 923.83L257.25 918.83Z" fill="none" stroke="#606060" stroke-width="2.7" stroke-linejoin="round"/>
<path d="M262.25 919.22L267.25 924.22L262.25 929.22L257.25 924.22Z" fill="none" stroke="#606060" stroke-width="2.7" stroke-linejoin="round"/>
<path d="M262.25 926.75L267.25 931.75L262.25 936.75L257.25 931.75Z" fill="none" stroke="#606060" stroke-width="2.7" stroke-linejoin="round"/>
<path d="M262.25 964.44L267.25 969.44L262.25 974.44L257.25 969.44Z" fill="none" stroke="#606060" stroke-width="2.7" stroke-linejoin="round"/>
<path d="M262.25 972.52L267.25 977.52L262.25 982.52L257.25 977.52Z" fill="none" stroke="#606060" stroke-width="2.7" stroke-linejoin="round"/>
<line x1="262.25" y1="931.22" x2="262.25" y2="918.29" stroke="#606060" stroke-width="2.5"/>
<line x1="256.75" y1="931.22" x2="267.75" y2="931.22" stroke="#606060" stroke-width="2.5"/>
<line x1="256.75" y1="918.29" x2="267.75" y2="918.29" stroke="#606060" stroke-width="2.5"/>
<line x1="247.75" y1="924.75" x2="276.75" y2="924.75" stroke="#606060" stroke-width="2.6"/>
<circle cx="318.25" cy="1018.44" r="5.4" fill="#000"/>
<circle cx="318.25" cy="1064.2" r="5.4" fill="#000"/>
<circle cx="318.25" cy="1064.2" r="5.4" fill="#000"/>
<line x1="318.25" y1="1064.2" x2="318.25" y2="1052.89" stroke="#000" stroke-width="2.5"/>
<line x1="312.75" y1="1064.2" x2="323.75" y2="1064.2" stroke="#000" stroke-width="2.5"/>
<line x1="312.75" y1="1052.89" x2="323.75" y2="1052.89" stroke="#000" stroke-width="2.5"/>
<line x1="303.75" y1="1058.82" x2="332.75" y2="1058.82" stroke="#000" stroke-width="2.6"/>
<path d="M351.5 897.68L356.5 902.68L351.5 907.68L346.5 902.68Z" fill="none" stroke="#606060" stroke-width="2.7" stroke-linejoin="round"/>
<path d="M351.5 907.37L356.5 912.37L351.5 917.37L346.5 912.37Z" fill="none" stroke="#606060" stroke-width="2.7" stroke-linejoin="round"/>
<path d="M351.5 910.06L356.5 915.06L351.5 920.06L346.5 915.06Z" fill="none" stroke="#606060" stroke-width="2.7" stroke-linejoin="round"/>
<path d="M351.5 918.68L356.5 923.68L351.5 928.68L346.5 923.68Z" fill="none" stroke="#606060" stroke-width="2.7" stroke-linejoin="round"/>
<path d="M351.5 935.37L356.5 940.37L351.5 945.37L346.5 940.37Z" fill="none" stroke="#606060" stroke-width="2.7" stroke-linejoin="round"/>
<path d="M351.5 947.75L356.5 952.75L351.5 957.75L346.5 952.75Z" fill="none" stroke="#606060" stroke-width="2.7" stroke-linejoin="round"/>
<path d="M351.5 970.36L356.5 975.36L351.5 980.36L346.5 975.36Z" fill="none" stroke="#606060" stroke-width="2.7" stroke-linejoin="round"/>
<line x1="351.5" y1="931.22" x2="351.5" y2="917.76" stroke="#606060" stroke-width="2.5"/>
<line x1="346" y1="931.22" x2="357" y2="931.22" stroke="#606060" stroke-width="2.5"/>
<line x1="346" y1="917.76" x2="357" y2="917.76" stroke="#606060" stroke-width="2.5"/>
<line x1="337" y1="924.75" x2="366" y2="924.75" stroke="#606060" stroke-width="2.6"/>
<path d="M228.3 876.6 V864.2 H262 V876.6" stroke="#000" stroke-width="3.6" fill="none" stroke-linejoin="round"/>
<text x="238.97" y="867.57" font-size="34" font-weight="bold">*</text>
<path d="M317.7 876.6 V864.2 H351.5 V876.6" stroke="#000" stroke-width="3.6" fill="none" stroke-linejoin="round"/>
<text x="328.37" y="867.17" font-size="34" font-weight="bold">*</text>
<circle cx="123.1" cy="801.6" r="5.4" fill="#000"/>
<path d="M123.1 819.8L128.1 824.8L123.1 829.8L118.1 824.8Z" fill="none" stroke="#606060" stroke-width="2.7" stroke-linejoin="round"/>
<text x="154.1" y="808" font-size="17.5">CD86<tspan font-size="11.5" dy="-7">-/-</tspan><tspan dy="7">NOD</tspan></text>
<text x="154.1" y="832.5" font-size="17.5">C57Bl/6</text>
<text x="399.6" y="798" font-size="41" font-weight="bold">F</text>
<line x1="522.8" y1="794" x2="522.8" y2="1064.5" stroke="#000" stroke-width="2.6"/>
<line x1="515.8" y1="795.3" x2="522.8" y2="795.3" stroke="#000" stroke-width="2.6"/>
<text x="512.05" y="802.7" font-size="22.6" text-anchor="end">200</text>
<line x1="515.8" y1="862.6" x2="522.8" y2="862.6" stroke="#000" stroke-width="2.6"/>
<text x="512.05" y="870" font-size="22.6" text-anchor="end">150</text>
<line x1="515.8" y1="929.9" x2="522.8" y2="929.9" stroke="#000" stroke-width="2.6"/>
<text x="512.05" y="937.3" font-size="22.6" text-anchor="end">100</text>
<line x1="515.8" y1="997.2" x2="522.8" y2="997.2" stroke="#000" stroke-width="2.6"/>
<text x="512.05" y="1004.6" font-size="22.6" text-anchor="end">50</text>
<line x1="515.8" y1="1064.5" x2="522.8" y2="1064.5" stroke="#000" stroke-width="2.6"/>
<text x="512.05" y="1071.9" font-size="22.6" text-anchor="end">0</text>
<line x1="522.8" y1="1064.5" x2="793.9" y2="1064.5" stroke="#000" stroke-width="2.6"/>
<line x1="567.7" y1="1064.5" x2="567.7" y2="1071.5" stroke="#000" stroke-width="2.6"/>
<line x1="657.3" y1="1064.5" x2="657.3" y2="1071.5" stroke="#000" stroke-width="2.6"/>
<line x1="747.5" y1="1064.5" x2="747.5" y2="1071.5" stroke="#000" stroke-width="2.6"/>
<text x="574.5" y="1088.5" font-size="22.5" text-anchor="end" transform="rotate(-45 574.5 1088.5)">baseline</text>
<text x="664.5" y="1088.5" font-size="22.5" text-anchor="end" transform="rotate(-45 664.5 1088.5)">early</text>
<text x="754.5" y="1088.5" font-size="22.5" text-anchor="end" transform="rotate(-45 754.5 1088.5)">late</text>
<text x="433.5" y="929" font-size="22.2" text-anchor="middle" transform="rotate(-90 433.5 929)">sciatic F-wave latency</text>
<text x="460.1" y="929.4" font-size="22.7" text-anchor="middle" transform="rotate(-90 460.1 929.4)">(% of baseline)</text>
<circle cx="542.75" cy="917.79" r="5.4" fill="#000"/>
<circle cx="542.75" cy="921.82" r="5.4" fill="#000"/>
<circle cx="542.75" cy="925.86" r="5.4" fill="#000"/>
<circle cx="542.75" cy="929.9" r="5.4" fill="#000"/>
<circle cx="542.75" cy="932.59" r="5.4" fill="#000"/>
<circle cx="542.75" cy="935.28" r="5.4" fill="#000"/>
<circle cx="542.75" cy="939.32" r="5.4" fill="#000"/>
<circle cx="542.75" cy="942.01" r="5.4" fill="#000"/>
<line x1="542.75" y1="933.94" x2="542.75" y2="925.86" stroke="#000" stroke-width="2.5"/>
<line x1="538.75" y1="933.94" x2="546.75" y2="933.94" stroke="#000" stroke-width="2.5"/>
<line x1="538.75" y1="925.86" x2="546.75" y2="925.86" stroke="#000" stroke-width="2.5"/>
<line x1="532.75" y1="929.9" x2="552.75" y2="929.9" stroke="#000" stroke-width="2.6"/>
<path d="M562.6 904.31H573.4L568 915.11Z" fill="#9e9e9e"/>
<path d="M562.6 908.35H573.4L568 919.15Z" fill="#9e9e9e"/>
<path d="M562.6 913.73H573.4L568 924.53Z" fill="#9e9e9e"/>
<path d="M562.6 917.77H573.4L568 928.57Z" fill="#9e9e9e"/>
<path d="M562.6 921.81H573.4L568 932.61Z" fill="#9e9e9e"/>
<path d="M562.6 927.19H573.4L568 937.99Z" fill="#9e9e9e"/>
<path d="M562.6 931.23H573.4L568 942.03Z" fill="#9e9e9e"/>
<path d="M562.6 935.27H573.4L568 946.07Z" fill="#9e9e9e"/>
<path d="M562.6 940.65H573.4L568 951.45Z" fill="#9e9e9e"/>
<path d="M562.6 944.69H573.4L568 955.49Z" fill="#9e9e9e"/>
<line x1="568" y1="934.61" x2="568" y2="925.19" stroke="#9e9e9e" stroke-width="2.5"/>
<line x1="564" y1="934.61" x2="572" y2="934.61" stroke="#9e9e9e" stroke-width="2.5"/>
<line x1="564" y1="925.19" x2="572" y2="925.19" stroke="#9e9e9e" stroke-width="2.5"/>
<line x1="558" y1="929.9" x2="578" y2="929.9" stroke="#9e9e9e" stroke-width="2.6"/>
<path d="M591.75 910.09L596.75 915.09L591.75 920.09L586.75 915.09Z" fill="none" stroke="#606060" stroke-width="2.7" stroke-linejoin="round"/>
<path d="M591.75 914.13L596.75 919.13L591.75 924.13L586.75 919.13Z" fill="none" stroke="#606060" stroke-width="2.7" stroke-linejoin="round"/>
<path d="M591.75 918.17L596.75 923.17L591.75 928.17L586.75 923.17Z" fill="none" stroke="#606060" stroke-width="2.7" stroke-linejoin="round"/>
<path d="M591.75 920.86L596.75 925.86L591.75 930.86L586.75 925.86Z" fill="none" stroke="#606060" stroke-width="2.7" stroke-linejoin="round"/>
<path d="M591.75 924.9L596.75 929.9L591.75 934.9L586.75 929.9Z" fill="none" stroke="#606060" stroke-width="2.7" stroke-linejoin="round"/>
<path d="M591.75 927.59L596.75 932.59L591.75 937.59L586.75 932.59Z" fill="none" stroke="#606060" stroke-width="2.7" stroke-linejoin="round"/>
<path d="M591.75 931.63L596.75 936.63L591.75 941.63L586.75 936.63Z" fill="none" stroke="#606060" stroke-width="2.7" stroke-linejoin="round"/>
<path d="M591.75 935.67L596.75 940.67L591.75 945.67L586.75 940.67Z" fill="none" stroke="#606060" stroke-width="2.7" stroke-linejoin="round"/>
<path d="M591.75 942.4L596.75 947.4L591.75 952.4L586.75 947.4Z" fill="none" stroke="#606060" stroke-width="2.7" stroke-linejoin="round"/>
<line x1="591.75" y1="933.94" x2="591.75" y2="925.86" stroke="#606060" stroke-width="2.5"/>
<line x1="587.75" y1="933.94" x2="595.75" y2="933.94" stroke="#606060" stroke-width="2.5"/>
<line x1="587.75" y1="925.86" x2="595.75" y2="925.86" stroke="#606060" stroke-width="2.5"/>
<line x1="581.75" y1="929.9" x2="601.75" y2="929.9" stroke="#606060" stroke-width="2.6"/>
<circle cx="632.7" cy="841.06" r="5.4" fill="#000"/>
<circle cx="632.7" cy="849.14" r="5.4" fill="#000"/>
<circle cx="632.7" cy="884.14" r="5.4" fill="#000"/>
<circle cx="632.7" cy="909.71" r="5.4" fill="#000"/>
<circle cx="632.7" cy="913.75" r="5.4" fill="#000"/>
<circle cx="632.7" cy="925.86" r="5.4" fill="#000"/>
<line x1="632.7" y1="889.52" x2="632.7" y2="863.95" stroke="#000" stroke-width="2.5"/>
<line x1="628.7" y1="889.52" x2="636.7" y2="889.52" stroke="#000" stroke-width="2.5"/>
<line x1="628.7" y1="863.95" x2="636.7" y2="863.95" stroke="#000" stroke-width="2.5"/>
<line x1="622.7" y1="876.6" x2="642.7" y2="876.6" stroke="#000" stroke-width="2.6"/>
<path d="M652.1 891.25H662.9L657.5 902.05Z" fill="#9e9e9e"/>
<path d="M652.1 915.08H662.9L657.5 925.88Z" fill="#9e9e9e"/>
<path d="M652.1 920.46H662.9L657.5 931.26Z" fill="#9e9e9e"/>
<path d="M652.1 928.54H662.9L657.5 939.34Z" fill="#9e9e9e"/>
<path d="M652.1 932.58H662.9L657.5 943.38Z" fill="#9e9e9e"/>
<path d="M652.1 934.46H662.9L657.5 945.26Z" fill="#9e9e9e"/>
<path d="M652.1 937.96H662.9L657.5 948.76Z" fill="#9e9e9e"/>
<path d="M652.1 941.46H662.9L657.5 952.26Z" fill="#9e9e9e"/>
<path d="M652.1 951.02H662.9L657.5 961.82Z" fill="#9e9e9e"/>
<line x1="657.5" y1="939.32" x2="657.5" y2="924.52" stroke="#9e9e9e" stroke-width="2.5"/>
<line x1="653.5" y1="939.32" x2="661.5" y2="939.32" stroke="#9e9e9e" stroke-width="2.5"/>
<line x1="653.5" y1="924.52" x2="661.5" y2="924.52" stroke="#9e9e9e" stroke-width="2.5"/>
<line x1="647.5" y1="931.92" x2="667.5" y2="931.92" stroke="#9e9e9e" stroke-width="2.6"/>
<path d="M682 908.08L687 913.08L682 918.08L677 913.08Z" fill="none" stroke="#606060" stroke-width="2.7" stroke-linejoin="round"/>
<path d="M682 915.48L687 920.48L682 925.48L677 920.48Z" fill="none" stroke="#606060" stroke-width="2.7" stroke-linejoin="round"/>
<path d="M682 919.52L687 924.52L682 929.52L677 924.52Z" fill="none" stroke="#606060" stroke-width="2.7" stroke-linejoin="round"/>
<path d="M682 923.55L687 928.55L682 933.55L677 928.55Z" fill="none" stroke="#606060" stroke-width="2.7" stroke-linejoin="round"/>
<path d="M682 927.59L687 932.59L682 937.59L677 932.59Z" fill="none" stroke="#606060" stroke-width="2.7" stroke-linejoin="round"/>
<path d="M682 930.28L687 935.28L682 940.28L677 935.28Z" fill="none" stroke="#606060" stroke-width="2.7" stroke-linejoin="round"/>
<path d="M682 934.32L687 939.32L682 944.32L677 939.32Z" fill="none" stroke="#606060" stroke-width="2.7" stroke-linejoin="round"/>
<path d="M682 938.36L687 943.36L682 948.36L677 943.36Z" fill="none" stroke="#606060" stroke-width="2.7" stroke-linejoin="round"/>
<line x1="682" y1="935.28" x2="682" y2="925.86" stroke="#606060" stroke-width="2.5"/>
<line x1="678" y1="935.28" x2="686" y2="935.28" stroke="#606060" stroke-width="2.5"/>
<line x1="678" y1="925.86" x2="686" y2="925.86" stroke="#606060" stroke-width="2.5"/>
<line x1="672" y1="930.84" x2="692" y2="930.84" stroke="#606060" stroke-width="2.6"/>
<circle cx="723" cy="844.43" r="5.4" fill="#000"/>
<circle cx="723" cy="855.87" r="5.4" fill="#000"/>
<circle cx="723" cy="866.64" r="5.4" fill="#000"/>
<circle cx="723" cy="880.77" r="5.4" fill="#000"/>
<circle cx="723" cy="891.4" r="5.4" fill="#000"/>
<circle cx="723" cy="901.23" r="5.4" fill="#000"/>
<circle cx="723" cy="910.65" r="5.4" fill="#000"/>
<line x1="723" y1="888.17" x2="723" y2="865.29" stroke="#000" stroke-width="2.5"/>
<line x1="719" y1="888.17" x2="727" y2="888.17" stroke="#000" stroke-width="2.5"/>
<line x1="719" y1="865.29" x2="727" y2="865.29" stroke="#000" stroke-width="2.5"/>
<line x1="713" y1="876.6" x2="733" y2="876.6" stroke="#000" stroke-width="2.6"/>
<path d="M742.1 905.66H752.9L747.5 916.46Z" fill="#9e9e9e"/>
<path d="M742.1 908.35H752.9L747.5 919.15Z" fill="#9e9e9e"/>
<path d="M742.1 911.04H752.9L747.5 921.84Z" fill="#9e9e9e"/>
<path d="M742.1 913.73H752.9L747.5 924.53Z" fill="#9e9e9e"/>
<path d="M742.1 916.42H752.9L747.5 927.22Z" fill="#9e9e9e"/>
<path d="M742.1 919.12H752.9L747.5 929.92Z" fill="#9e9e9e"/>
<path d="M742.1 944.02H752.9L747.5 954.82Z" fill="#9e9e9e"/>
<line x1="747.5" y1="932.59" x2="747.5" y2="919.13" stroke="#9e9e9e" stroke-width="2.5"/>
<line x1="743.5" y1="932.59" x2="751.5" y2="932.59" stroke="#9e9e9e" stroke-width="2.5"/>
<line x1="743.5" y1="919.13" x2="751.5" y2="919.13" stroke="#9e9e9e" stroke-width="2.5"/>
<line x1="737.5" y1="925.86" x2="757.5" y2="925.86" stroke="#9e9e9e" stroke-width="2.6"/>
<path d="M772 899.73L777 904.73L772 909.73L767 904.73Z" fill="none" stroke="#606060" stroke-width="2.7" stroke-linejoin="round"/>
<path d="M772 918.17L777 923.17L772 928.17L767 923.17Z" fill="none" stroke="#606060" stroke-width="2.7" stroke-linejoin="round"/>
<path d="M772 920.86L777 925.86L772 930.86L767 925.86Z" fill="none" stroke="#606060" stroke-width="2.7" stroke-linejoin="round"/>
<path d="M772 923.55L777 928.55L772 933.55L767 928.55Z" fill="none" stroke="#606060" stroke-width="2.7" stroke-linejoin="round"/>
<path d="M772 926.25L777 931.25L772 936.25L767 931.25Z" fill="none" stroke="#606060" stroke-width="2.7" stroke-linejoin="round"/>
<path d="M772 928.94L777 933.94L772 938.94L767 933.94Z" fill="none" stroke="#606060" stroke-width="2.7" stroke-linejoin="round"/>
<path d="M772 931.63L777 936.63L772 941.63L767 936.63Z" fill="none" stroke="#606060" stroke-width="2.7" stroke-linejoin="round"/>
<path d="M772 934.32L777 939.32L772 944.32L767 939.32Z" fill="none" stroke="#606060" stroke-width="2.7" stroke-linejoin="round"/>
<path d="M772 937.01L777 942.01L772 947.01L767 942.01Z" fill="none" stroke="#606060" stroke-width="2.7" stroke-linejoin="round"/>
<path d="M772 941.05L777 946.05L772 951.05L767 946.05Z" fill="none" stroke="#606060" stroke-width="2.7" stroke-linejoin="round"/>
<path d="M772 945.76L777 950.76L772 955.76L767 950.76Z" fill="none" stroke="#606060" stroke-width="2.7" stroke-linejoin="round"/>
<line x1="772" y1="939.32" x2="772" y2="927.21" stroke="#606060" stroke-width="2.5"/>
<line x1="768" y1="939.32" x2="776" y2="939.32" stroke="#606060" stroke-width="2.5"/>
<line x1="768" y1="927.21" x2="776" y2="927.21" stroke="#606060" stroke-width="2.5"/>
<line x1="762" y1="933.4" x2="782" y2="933.4" stroke="#606060" stroke-width="2.6"/>
<path d="M633.4 817.9 V805.9 H669.9 V817.9" stroke="#000" stroke-width="3.6" fill="none" stroke-linejoin="round"/>
<line x1="657.6" y1="817.9" x2="682.3" y2="817.9" stroke="#000" stroke-width="3.6"/>
<text x="645.47" y="808.97" font-size="34" font-weight="bold">*</text>
<path d="M722.5 818 V805.9 H758.7 V818" stroke="#000" stroke-width="3.6" fill="none" stroke-linejoin="round"/>
<line x1="746.6" y1="818" x2="771.1" y2="818" stroke="#000" stroke-width="3.6"/>
<text x="734.87" y="809.37" font-size="34" font-weight="bold">*</text>
<circle cx="541" cy="1006.6" r="5.4" fill="#000"/>
<path d="M535.6 1024.3H546.4L541 1035.1Z" fill="#9e9e9e"/>
<path d="M541 1046.4L546 1051.4L541 1056.4L536 1051.4Z" fill="none" stroke="#606060" stroke-width="2.7" stroke-linejoin="round"/>
<text x="571.9" y="1014" font-size="17.5">CD86<tspan font-size="11.5" dy="-7">-/-</tspan><tspan dy="7">NOD</tspan></text>
<text x="571.9" y="1036.5" font-size="17.5">NOR/LtJ</text>
<text x="571.9" y="1058.5" font-size="17.5">C57Bl/6</text>
<text x="3.4" y="1177.6" font-size="41" font-weight="bold">G</text>
<line x1="112.5" y1="1183.1" x2="112.5" y2="1447.5" stroke="#000" stroke-width="2.6"/>
<line x1="105.5" y1="1184.4" x2="112.5" y2="1184.4" stroke="#000" stroke-width="2.6"/>
<text x="101.75" y="1191.8" font-size="22.6" text-anchor="end">75</text>
<line x1="105.5" y1="1272.1" x2="112.5" y2="1272.1" stroke="#000" stroke-width="2.6"/>
<text x="101.75" y="1279.5" font-size="22.6" text-anchor="end">50</text>
<line x1="105.5" y1="1359.8" x2="112.5" y2="1359.8" stroke="#000" stroke-width="2.6"/>
<text x="101.75" y="1367.2" font-size="22.6" text-anchor="end">25</text>
<line x1="105.5" y1="1447.5" x2="112.5" y2="1447.5" stroke="#000" stroke-width="2.6"/>
<text x="101.75" y="1454.9" font-size="22.6" text-anchor="end">0</text>
<line x1="112.5" y1="1447.5" x2="377" y2="1447.5" stroke="#000" stroke-width="2.6"/>
<line x1="156.3" y1="1447.5" x2="156.3" y2="1454.5" stroke="#000" stroke-width="2.6"/>
<line x1="243.8" y1="1447.5" x2="243.8" y2="1454.5" stroke="#000" stroke-width="2.6"/>
<line x1="332" y1="1447.5" x2="332" y2="1454.5" stroke="#000" stroke-width="2.6"/>
<text x="161.5" y="1471.5" font-size="22.5" text-anchor="end" transform="rotate(-45 161.5 1471.5)">baseline</text>
<text x="249.7" y="1471.5" font-size="22.5" text-anchor="end" transform="rotate(-45 249.7 1471.5)">early</text>
<text x="337.2" y="1471.5" font-size="22.5" text-anchor="end" transform="rotate(-45 337.2 1471.5)">late</text>
<text x="63.3" y="1314.5" font-size="22.0" text-anchor="middle" transform="rotate(-90 63.3 1314.5)">tail SCV (m/s)</text>
<circle cx="131.7" cy="1337.35" r="5.4" fill="#000"/>
<circle cx="131.7" cy="1340.51" r="5.4" fill="#000"/>
<circle cx="131.7" cy="1342.96" r="5.4" fill="#000"/>
<circle cx="131.7" cy="1345.77" r="5.4" fill="#000"/>
<circle cx="131.7" cy="1348.22" r="5.4" fill="#000"/>
<circle cx="131.7" cy="1350.68" r="5.4" fill="#000"/>
<circle cx="131.7" cy="1353.13" r="5.4" fill="#000"/>
<circle cx="131.7" cy="1390.32" r="5.4" fill="#000"/>
<circle cx="131.7" cy="1394.18" r="5.4" fill="#000"/>
<line x1="131.7" y1="1362.61" x2="131.7" y2="1347.17" stroke="#000" stroke-width="2.5"/>
<line x1="127.7" y1="1362.61" x2="135.7" y2="1362.61" stroke="#000" stroke-width="2.5"/>
<line x1="127.7" y1="1347.17" x2="135.7" y2="1347.17" stroke="#000" stroke-width="2.5"/>
<line x1="121.7" y1="1354.89" x2="141.7" y2="1354.89" stroke="#000" stroke-width="2.6"/>
<path d="M150.1 1314.41H160.9L155.5 1325.21Z" fill="#9e9e9e"/>
<path d="M150.1 1330.19H160.9L155.5 1340.99Z" fill="#9e9e9e"/>
<path d="M150.1 1333.7H160.9L155.5 1344.5Z" fill="#9e9e9e"/>
<path d="M150.1 1337.21H160.9L155.5 1348.01Z" fill="#9e9e9e"/>
<path d="M150.1 1342.47H160.9L155.5 1353.27Z" fill="#9e9e9e"/>
<line x1="155.5" y1="1346.47" x2="155.5" y2="1337.35" stroke="#9e9e9e" stroke-width="2.5"/>
<line x1="151.5" y1="1346.47" x2="159.5" y2="1346.47" stroke="#9e9e9e" stroke-width="2.5"/>
<line x1="151.5" y1="1337.35" x2="159.5" y2="1337.35" stroke="#9e9e9e" stroke-width="2.5"/>
<line x1="145.5" y1="1341.91" x2="165.5" y2="1341.91" stroke="#9e9e9e" stroke-width="2.6"/>
<path d="M180 1327.09L185 1332.09L180 1337.09L175 1332.09Z" fill="none" stroke="#606060" stroke-width="2.7" stroke-linejoin="round"/>
<path d="M180 1330.24L185 1335.24L180 1340.24L175 1335.24Z" fill="none" stroke="#606060" stroke-width="2.7" stroke-linejoin="round"/>
<path d="M180 1333.05L185 1338.05L180 1343.05L175 1338.05Z" fill="none" stroke="#606060" stroke-width="2.7" stroke-linejoin="round"/>
<path d="M180 1335.86L185 1340.86L180 1345.86L175 1340.86Z" fill="none" stroke="#606060" stroke-width="2.7" stroke-linejoin="round"/>
<path d="M180 1338.66L185 1343.66L180 1348.66L175 1343.66Z" fill="none" stroke="#606060" stroke-width="2.7" stroke-linejoin="round"/>
<path d="M180 1341.47L185 1346.47L180 1351.47L175 1346.47Z" fill="none" stroke="#606060" stroke-width="2.7" stroke-linejoin="round"/>
<path d="M180 1344.28L185 1349.28L180 1354.28L175 1349.28Z" fill="none" stroke="#606060" stroke-width="2.7" stroke-linejoin="round"/>
<path d="M180 1346.38L185 1351.38L180 1356.38L175 1351.38Z" fill="none" stroke="#606060" stroke-width="2.7" stroke-linejoin="round"/>
<line x1="180" y1="1344.72" x2="180" y2="1337" stroke="#606060" stroke-width="2.5"/>
<line x1="176" y1="1344.72" x2="184" y2="1344.72" stroke="#606060" stroke-width="2.5"/>
<line x1="176" y1="1337" x2="184" y2="1337" stroke="#606060" stroke-width="2.5"/>
<line x1="170" y1="1340.86" x2="190" y2="1340.86" stroke="#606060" stroke-width="2.6"/>
<circle cx="220.25" cy="1324.02" r="5.4" fill="#000"/>
<circle cx="220.25" cy="1355.59" r="5.4" fill="#000"/>
<circle cx="220.25" cy="1400.84" r="5.4" fill="#000"/>
<circle cx="220.25" cy="1406.11" r="5.4" fill="#000"/>
<circle cx="220.25" cy="1411.37" r="5.4" fill="#000"/>
<circle cx="220.25" cy="1447.5" r="5.4" fill="#000"/>
<line x1="220.25" y1="1412.42" x2="220.25" y2="1385.06" stroke="#000" stroke-width="2.5"/>
<line x1="216.25" y1="1412.42" x2="224.25" y2="1412.42" stroke="#000" stroke-width="2.5"/>
<line x1="216.25" y1="1385.06" x2="224.25" y2="1385.06" stroke="#000" stroke-width="2.5"/>
<line x1="210.25" y1="1400.84" x2="230.25" y2="1400.84" stroke="#000" stroke-width="2.6"/>
<path d="M238.6 1334.76H249.4L244 1345.56Z" fill="#9e9e9e"/>
<path d="M238.6 1338.96H249.4L244 1349.76Z" fill="#9e9e9e"/>
<path d="M238.6 1344.23H249.4L244 1355.03Z" fill="#9e9e9e"/>
<path d="M238.6 1409.48H249.4L244 1420.28Z" fill="#9e9e9e"/>
<line x1="244" y1="1362.61" x2="244" y2="1347.87" stroke="#9e9e9e" stroke-width="2.5"/>
<line x1="240" y1="1362.61" x2="248" y2="1362.61" stroke="#9e9e9e" stroke-width="2.5"/>
<line x1="240" y1="1347.87" x2="248" y2="1347.87" stroke="#9e9e9e" stroke-width="2.5"/>
<line x1="234" y1="1354.89" x2="254" y2="1354.89" stroke="#9e9e9e" stroke-width="2.6"/>
<path d="M269.25 1306.04L274.25 1311.04L269.25 1316.04L264.25 1311.04Z" fill="none" stroke="#606060" stroke-width="2.7" stroke-linejoin="round"/>
<path d="M269.25 1310.95L274.25 1315.95L269.25 1320.95L264.25 1315.95Z" fill="none" stroke="#606060" stroke-width="2.7" stroke-linejoin="round"/>
<path d="M269.25 1315.51L274.25 1320.51L269.25 1325.51L264.25 1320.51Z" fill="none" stroke="#606060" stroke-width="2.7" stroke-linejoin="round"/>
<path d="M269.25 1319.72L274.25 1324.72L269.25 1329.72L264.25 1324.72Z" fill="none" stroke="#606060" stroke-width="2.7" stroke-linejoin="round"/>
<path d="M269.25 1323.93L274.25 1328.93L269.25 1333.93L264.25 1328.93Z" fill="none" stroke="#606060" stroke-width="2.7" stroke-linejoin="round"/>
<path d="M269.25 1328.49L274.25 1333.49L269.25 1338.49L264.25 1333.49Z" fill="none" stroke="#606060" stroke-width="2.7" stroke-linejoin="round"/>
<path d="M269.25 1332.7L274.25 1337.7L269.25 1342.7L264.25 1337.7Z" fill="none" stroke="#606060" stroke-width="2.7" stroke-linejoin="round"/>
<path d="M269.25 1336.56L274.25 1341.56L269.25 1346.56L264.25 1341.56Z" fill="none" stroke="#606060" stroke-width="2.7" stroke-linejoin="round"/>
<line x1="269.25" y1="1328.23" x2="269.25" y2="1320.51" stroke="#606060" stroke-width="2.5"/>
<line x1="265.25" y1="1328.23" x2="273.25" y2="1328.23" stroke="#606060" stroke-width="2.5"/>
<line x1="265.25" y1="1320.51" x2="273.25" y2="1320.51" stroke="#606060" stroke-width="2.5"/>
<line x1="259.25" y1="1324.37" x2="279.25" y2="1324.37" stroke="#606060" stroke-width="2.6"/>
<circle cx="307.75" cy="1334.89" r="5.4" fill="#000"/>
<circle cx="307.75" cy="1401.55" r="5.4" fill="#000"/>
<circle cx="307.75" cy="1408.56" r="5.4" fill="#000"/>
<circle cx="307.75" cy="1447.5" r="5.4" fill="#000"/>
<line x1="307.75" y1="1435.92" x2="307.75" y2="1402.6" stroke="#000" stroke-width="2.5"/>
<line x1="303.75" y1="1435.92" x2="311.75" y2="1435.92" stroke="#000" stroke-width="2.5"/>
<line x1="303.75" y1="1402.6" x2="311.75" y2="1402.6" stroke="#000" stroke-width="2.5"/>
<line x1="297.75" y1="1420.14" x2="317.75" y2="1420.14" stroke="#000" stroke-width="2.6"/>
<path d="M326.85 1323.18H337.65L332.25 1333.98Z" fill="#9e9e9e"/>
<path d="M326.85 1328.44H337.65L332.25 1339.24Z" fill="#9e9e9e"/>
<path d="M326.85 1333.7H337.65L332.25 1344.5Z" fill="#9e9e9e"/>
<path d="M326.85 1342.47H337.65L332.25 1353.27Z" fill="#9e9e9e"/>
<path d="M326.85 1360.01H337.65L332.25 1370.81Z" fill="#9e9e9e"/>
<line x1="332.25" y1="1349.63" x2="332.25" y2="1335.59" stroke="#9e9e9e" stroke-width="2.5"/>
<line x1="328.25" y1="1349.63" x2="336.25" y2="1349.63" stroke="#9e9e9e" stroke-width="2.5"/>
<line x1="328.25" y1="1335.59" x2="336.25" y2="1335.59" stroke="#9e9e9e" stroke-width="2.5"/>
<line x1="322.25" y1="1342.61" x2="342.25" y2="1342.61" stroke="#9e9e9e" stroke-width="2.6"/>
<path d="M356.75 1302.53L361.75 1307.53L356.75 1312.53L351.75 1307.53Z" fill="none" stroke="#606060" stroke-width="2.7" stroke-linejoin="round"/>
<path d="M356.75 1306.39L361.75 1311.39L356.75 1316.39L351.75 1311.39Z" fill="none" stroke="#606060" stroke-width="2.7" stroke-linejoin="round"/>
<path d="M356.75 1310.25L361.75 1315.25L356.75 1320.25L351.75 1315.25Z" fill="none" stroke="#606060" stroke-width="2.7" stroke-linejoin="round"/>
<path d="M356.75 1314.11L361.75 1319.11L356.75 1324.11L351.75 1319.11Z" fill="none" stroke="#606060" stroke-width="2.7" stroke-linejoin="round"/>
<path d="M356.75 1317.97L361.75 1322.97L356.75 1327.97L351.75 1322.97Z" fill="none" stroke="#606060" stroke-width="2.7" stroke-linejoin="round"/>
<path d="M356.75 1321.82L361.75 1326.82L356.75 1331.82L351.75 1326.82Z" fill="none" stroke="#606060" stroke-width="2.7" stroke-linejoin="round"/>
<path d="M356.75 1325.68L361.75 1330.68L356.75 1335.68L351.75 1330.68Z" fill="none" stroke="#606060" stroke-width="2.7" stroke-linejoin="round"/>
<path d="M356.75 1328.84L361.75 1333.84L356.75 1338.84L351.75 1333.84Z" fill="none" stroke="#606060" stroke-width="2.7" stroke-linejoin="round"/>
<line x1="356.75" y1="1324.72" x2="356.75" y2="1318.41" stroke="#606060" stroke-width="2.5"/>
<line x1="352.75" y1="1324.72" x2="360.75" y2="1324.72" stroke="#606060" stroke-width="2.5"/>
<line x1="352.75" y1="1318.41" x2="360.75" y2="1318.41" stroke="#606060" stroke-width="2.5"/>
<line x1="346.75" y1="1321.56" x2="366.75" y2="1321.56" stroke="#606060" stroke-width="2.6"/>
<path d="M221 1284.2 V1272.2 H268.5 V1284.2" stroke="#000" stroke-width="3.6" fill="none" stroke-linejoin="round"/>
<text x="238.97" y="1275.97" font-size="34" font-weight="bold">*</text>
<path d="M308.4 1284.2 V1272.2 H344.2 V1284.2" stroke="#000" stroke-width="3.6" fill="none" stroke-linejoin="round"/>
<line x1="332.5" y1="1284.2" x2="356" y2="1284.2" stroke="#000" stroke-width="3.6"/>
<text x="319.97" y="1275.97" font-size="34" font-weight="bold">*</text>
<circle cx="124.6" cy="1183.5" r="5.4" fill="#000"/>
<path d="M119.2 1200.4H130L124.6 1211.2Z" fill="#9e9e9e"/>
<path d="M124.6 1223.9L129.6 1228.9L124.6 1233.9L119.6 1228.9Z" fill="none" stroke="#606060" stroke-width="2.7" stroke-linejoin="round"/>
<text x="155.1" y="1189.5" font-size="17.5">CD86<tspan font-size="11.5" dy="-7">-/-</tspan><tspan dy="7">NOD</tspan></text>
<text x="155.1" y="1213" font-size="17.5">NOR/LtJ</text>
<text x="155.1" y="1235" font-size="17.5">C57Bl/6</text>
<text x="399.6" y="1177.6" font-size="41" font-weight="bold">H</text>
<line x1="522.8" y1="1182.5" x2="522.8" y2="1447" stroke="#000" stroke-width="2.6"/>
<line x1="515.8" y1="1183.8" x2="522.8" y2="1183.8" stroke="#000" stroke-width="2.6"/>
<text x="512.05" y="1191.2" font-size="22.6" text-anchor="end">100</text>
<line x1="515.8" y1="1236.5" x2="522.8" y2="1236.5" stroke="#000" stroke-width="2.6"/>
<text x="512.05" y="1243.9" font-size="22.6" text-anchor="end">80</text>
<line x1="515.8" y1="1289.2" x2="522.8" y2="1289.2" stroke="#000" stroke-width="2.6"/>
<text x="512.05" y="1296.6" font-size="22.6" text-anchor="end">60</text>
<line x1="515.8" y1="1341.9" x2="522.8" y2="1341.9" stroke="#000" stroke-width="2.6"/>
<text x="512.05" y="1349.3" font-size="22.6" text-anchor="end">40</text>
<line x1="515.8" y1="1394.6" x2="522.8" y2="1394.6" stroke="#000" stroke-width="2.6"/>
<text x="512.05" y="1402" font-size="22.6" text-anchor="end">20</text>
<line x1="515.8" y1="1447.3" x2="522.8" y2="1447.3" stroke="#000" stroke-width="2.6"/>
<text x="512.05" y="1454.7" font-size="22.6" text-anchor="end">0</text>
<line x1="522.8" y1="1447" x2="787.5" y2="1447" stroke="#000" stroke-width="2.6"/>
<line x1="567.25" y1="1447" x2="567.25" y2="1454" stroke="#000" stroke-width="2.6"/>
<line x1="654" y1="1447" x2="654" y2="1454" stroke="#000" stroke-width="2.6"/>
<line x1="742.25" y1="1447" x2="742.25" y2="1454" stroke="#000" stroke-width="2.6"/>
<text x="573.25" y="1471.5" font-size="22.5" text-anchor="end" transform="rotate(-45 573.25 1471.5)">baseline</text>
<text x="660" y="1471.5" font-size="22.5" text-anchor="end" transform="rotate(-45 660 1471.5)">early</text>
<text x="748.25" y="1471.5" font-size="22.5" text-anchor="end" transform="rotate(-45 748.25 1471.5)">late</text>
<text x="462.3" y="1314.9" font-size="21.9" text-anchor="middle" transform="rotate(-90 462.3 1314.9)">tail SNAP (&#181;V)</text>
<circle cx="542.75" cy="1294.21" r="5.4" fill="#000"/>
<circle cx="542.75" cy="1306.85" r="5.4" fill="#000"/>
<circle cx="542.75" cy="1311.6" r="5.4" fill="#000"/>
<circle cx="542.75" cy="1317.92" r="5.4" fill="#000"/>
<circle cx="542.75" cy="1322.14" r="5.4" fill="#000"/>
<circle cx="542.75" cy="1431.75" r="5.4" fill="#000"/>
<line x1="542.75" y1="1336.63" x2="542.75" y2="1311.6" stroke="#000" stroke-width="2.5"/>
<line x1="538.75" y1="1336.63" x2="546.75" y2="1336.63" stroke="#000" stroke-width="2.5"/>
<line x1="538.75" y1="1311.6" x2="546.75" y2="1311.6" stroke="#000" stroke-width="2.5"/>
<line x1="532.75" y1="1322.66" x2="552.75" y2="1322.66" stroke="#000" stroke-width="2.6"/>
<path d="M560.8 1284.59H571.6L566.2 1295.39Z" fill="#9e9e9e"/>
<path d="M560.8 1300.4H571.6L566.2 1311.2Z" fill="#9e9e9e"/>
<path d="M560.8 1304.88H571.6L566.2 1315.68Z" fill="#9e9e9e"/>
<path d="M560.8 1309.1H571.6L566.2 1319.9Z" fill="#9e9e9e"/>
<path d="M560.8 1316.21H571.6L566.2 1327.01Z" fill="#9e9e9e"/>
<path d="M560.8 1345.99H571.6L566.2 1356.79Z" fill="#9e9e9e"/>
<line x1="566.2" y1="1322.93" x2="566.2" y2="1309.75" stroke="#9e9e9e" stroke-width="2.5"/>
<line x1="562.2" y1="1322.93" x2="570.2" y2="1322.93" stroke="#9e9e9e" stroke-width="2.5"/>
<line x1="562.2" y1="1309.75" x2="570.2" y2="1309.75" stroke="#9e9e9e" stroke-width="2.5"/>
<line x1="556.2" y1="1316.34" x2="576.2" y2="1316.34" stroke="#9e9e9e" stroke-width="2.6"/>
<path d="M591 1290.26L596 1295.26L591 1300.26L586 1295.26Z" fill="none" stroke="#606060" stroke-width="2.7" stroke-linejoin="round"/>
<path d="M591 1294.74L596 1299.74L591 1304.74L586 1299.74Z" fill="none" stroke="#606060" stroke-width="2.7" stroke-linejoin="round"/>
<path d="M591 1300.01L596 1305.01L591 1310.01L586 1305.01Z" fill="none" stroke="#606060" stroke-width="2.7" stroke-linejoin="round"/>
<path d="M591 1305.28L596 1310.28L591 1315.28L586 1310.28Z" fill="none" stroke="#606060" stroke-width="2.7" stroke-linejoin="round"/>
<path d="M591 1310.55L596 1315.55L591 1320.55L586 1315.55Z" fill="none" stroke="#606060" stroke-width="2.7" stroke-linejoin="round"/>
<path d="M591 1315.82L596 1320.82L591 1325.82L586 1320.82Z" fill="none" stroke="#606060" stroke-width="2.7" stroke-linejoin="round"/>
<path d="M591 1320.3L596 1325.3L591 1330.3L586 1325.3Z" fill="none" stroke="#606060" stroke-width="2.7" stroke-linejoin="round"/>
<path d="M591 1347.44L596 1352.44L591 1357.44L586 1352.44Z" fill="none" stroke="#606060" stroke-width="2.7" stroke-linejoin="round"/>
<line x1="591" y1="1322.93" x2="591" y2="1309.75" stroke="#606060" stroke-width="2.5"/>
<line x1="587" y1="1322.93" x2="595" y2="1322.93" stroke="#606060" stroke-width="2.5"/>
<line x1="587" y1="1309.75" x2="595" y2="1309.75" stroke="#606060" stroke-width="2.5"/>
<line x1="581" y1="1316.34" x2="601" y2="1316.34" stroke="#606060" stroke-width="2.6"/>
<circle cx="631" cy="1294.21" r="5.4" fill="#000"/>
<circle cx="631" cy="1371.15" r="5.4" fill="#000"/>
<circle cx="631" cy="1381.69" r="5.4" fill="#000"/>
<circle cx="631" cy="1424.64" r="5.4" fill="#000"/>
<circle cx="631" cy="1434.12" r="5.4" fill="#000"/>
<circle cx="631" cy="1447.3" r="5.4" fill="#000"/>
<line x1="631" y1="1428.86" x2="631" y2="1378.79" stroke="#000" stroke-width="2.5"/>
<line x1="627" y1="1428.86" x2="635" y2="1428.86" stroke="#000" stroke-width="2.5"/>
<line x1="627" y1="1378.79" x2="635" y2="1378.79" stroke="#000" stroke-width="2.5"/>
<line x1="621" y1="1403.82" x2="641" y2="1403.82" stroke="#000" stroke-width="2.6"/>
<path d="M648.6 1269.83H659.4L654 1280.63Z" fill="#9e9e9e"/>
<path d="M648.6 1284.59H659.4L654 1295.39Z" fill="#9e9e9e"/>
<path d="M648.6 1297.77H659.4L654 1308.57Z" fill="#9e9e9e"/>
<path d="M648.6 1303.83H659.4L654 1314.63Z" fill="#9e9e9e"/>
<path d="M648.6 1309.1H659.4L654 1319.9Z" fill="#9e9e9e"/>
<path d="M648.6 1321.48H659.4L654 1332.28Z" fill="#9e9e9e"/>
<path d="M648.6 1393.15H659.4L654 1403.95Z" fill="#9e9e9e"/>
<line x1="654" y1="1325.04" x2="654" y2="1305.8" stroke="#9e9e9e" stroke-width="2.5"/>
<line x1="650" y1="1325.04" x2="658" y2="1325.04" stroke="#9e9e9e" stroke-width="2.5"/>
<line x1="650" y1="1305.8" x2="658" y2="1305.8" stroke="#9e9e9e" stroke-width="2.5"/>
<line x1="644" y1="1315.29" x2="664" y2="1315.29" stroke="#9e9e9e" stroke-width="2.6"/>
<path d="M678.6 1283.41L683.6 1288.41L678.6 1293.41L673.6 1288.41Z" fill="none" stroke="#606060" stroke-width="2.7" stroke-linejoin="round"/>
<path d="M678.6 1289.47L683.6 1294.47L678.6 1299.47L673.6 1294.47Z" fill="none" stroke="#606060" stroke-width="2.7" stroke-linejoin="round"/>
<path d="M678.6 1296.06L683.6 1301.06L678.6 1306.06L673.6 1301.06Z" fill="none" stroke="#606060" stroke-width="2.7" stroke-linejoin="round"/>
<path d="M678.6 1302.64L683.6 1307.64L678.6 1312.64L673.6 1307.64Z" fill="none" stroke="#606060" stroke-width="2.7" stroke-linejoin="round"/>
<path d="M678.6 1309.23L683.6 1314.23L678.6 1319.23L673.6 1314.23Z" fill="none" stroke="#606060" stroke-width="2.7" stroke-linejoin="round"/>
<path d="M678.6 1315.82L683.6 1320.82L678.6 1325.82L673.6 1320.82Z" fill="none" stroke="#606060" stroke-width="2.7" stroke-linejoin="round"/>
<path d="M678.6 1322.41L683.6 1327.41L678.6 1332.41L673.6 1327.41Z" fill="none" stroke="#606060" stroke-width="2.7" stroke-linejoin="round"/>
<path d="M678.6 1328.73L683.6 1333.73L678.6 1338.73L673.6 1333.73Z" fill="none" stroke="#606060" stroke-width="2.7" stroke-linejoin="round"/>
<line x1="678.6" y1="1315.55" x2="678.6" y2="1304.48" stroke="#606060" stroke-width="2.5"/>
<line x1="674.6" y1="1315.55" x2="682.6" y2="1315.55" stroke="#606060" stroke-width="2.5"/>
<line x1="674.6" y1="1304.48" x2="682.6" y2="1304.48" stroke="#606060" stroke-width="2.5"/>
<line x1="668.6" y1="1310.02" x2="688.6" y2="1310.02" stroke="#606060" stroke-width="2.6"/>
<circle cx="718.5" cy="1365.35" r="5.4" fill="#000"/>
<circle cx="718.5" cy="1417.79" r="5.4" fill="#000"/>
<circle cx="718.5" cy="1429.38" r="5.4" fill="#000"/>
<circle cx="718.5" cy="1447.3" r="5.4" fill="#000"/>
<line x1="718.5" y1="1440.45" x2="718.5" y2="1419.63" stroke="#000" stroke-width="2.5"/>
<line x1="714.5" y1="1440.45" x2="722.5" y2="1440.45" stroke="#000" stroke-width="2.5"/>
<line x1="714.5" y1="1419.63" x2="722.5" y2="1419.63" stroke="#000" stroke-width="2.5"/>
<line x1="708.5" y1="1429.38" x2="728.5" y2="1429.38" stroke="#000" stroke-width="2.6"/>
<path d="M736.85 1284.59H747.65L742.25 1295.39Z" fill="#9e9e9e"/>
<path d="M736.85 1303.04H747.65L742.25 1313.84Z" fill="#9e9e9e"/>
<path d="M736.85 1321.48H747.65L742.25 1332.28Z" fill="#9e9e9e"/>
<path d="M736.85 1328.33H747.65L742.25 1339.13Z" fill="#9e9e9e"/>
<path d="M736.85 1335.45H747.65L742.25 1346.25Z" fill="#9e9e9e"/>
<path d="M736.85 1383.4H747.65L742.25 1394.2Z" fill="#9e9e9e"/>
<line x1="742.25" y1="1340.85" x2="742.25" y2="1311.07" stroke="#9e9e9e" stroke-width="2.5"/>
<line x1="738.25" y1="1340.85" x2="746.25" y2="1340.85" stroke="#9e9e9e" stroke-width="2.5"/>
<line x1="738.25" y1="1311.07" x2="746.25" y2="1311.07" stroke="#9e9e9e" stroke-width="2.5"/>
<line x1="732.25" y1="1325.04" x2="752.25" y2="1325.04" stroke="#9e9e9e" stroke-width="2.6"/>
<path d="M766.75 1300.8L771.75 1305.8L766.75 1310.8L761.75 1305.8Z" fill="none" stroke="#606060" stroke-width="2.7" stroke-linejoin="round"/>
<path d="M766.75 1304.49L771.75 1309.49L766.75 1314.49L761.75 1309.49Z" fill="none" stroke="#606060" stroke-width="2.7" stroke-linejoin="round"/>
<path d="M766.75 1307.91L771.75 1312.91L766.75 1317.91L761.75 1312.91Z" fill="none" stroke="#606060" stroke-width="2.7" stroke-linejoin="round"/>
<path d="M766.75 1311.34L771.75 1316.34L766.75 1321.34L761.75 1316.34Z" fill="none" stroke="#606060" stroke-width="2.7" stroke-linejoin="round"/>
<path d="M766.75 1315.03L771.75 1320.03L766.75 1325.03L761.75 1320.03Z" fill="none" stroke="#606060" stroke-width="2.7" stroke-linejoin="round"/>
<path d="M766.75 1318.45L771.75 1323.45L766.75 1328.45L761.75 1323.45Z" fill="none" stroke="#606060" stroke-width="2.7" stroke-linejoin="round"/>
<line x1="766.75" y1="1317.66" x2="766.75" y2="1311.33" stroke="#606060" stroke-width="2.5"/>
<line x1="762.75" y1="1317.66" x2="770.75" y2="1317.66" stroke="#606060" stroke-width="2.5"/>
<line x1="762.75" y1="1311.33" x2="770.75" y2="1311.33" stroke="#606060" stroke-width="2.5"/>
<line x1="756.75" y1="1314.5" x2="776.75" y2="1314.5" stroke="#606060" stroke-width="2.6"/>
<path d="M630.8 1259.2 V1247.2 H666 V1259.2" stroke="#000" stroke-width="3.6" fill="none" stroke-linejoin="round"/>
<line x1="654.6" y1="1259.2" x2="678.4" y2="1259.2" stroke="#000" stroke-width="3.6"/>
<text x="642.37" y="1251.27" font-size="34" font-weight="bold">*</text>
<path d="M719 1259 V1246.8 H754.7 V1259" stroke="#000" stroke-width="3.6" fill="none" stroke-linejoin="round"/>
<line x1="742.9" y1="1259" x2="766.9" y2="1259" stroke="#000" stroke-width="3.6"/>
<text x="730.67" y="1250.47" font-size="34" font-weight="bold">*</text>
<circle cx="536.3" cy="1183.5" r="5.4" fill="#000"/>
<path d="M530.9 1200.6H541.7L536.3 1211.4Z" fill="#9e9e9e"/>
<path d="M536.3 1222.3L541.3 1227.3L536.3 1232.3L531.3 1227.3Z" fill="none" stroke="#606060" stroke-width="2.7" stroke-linejoin="round"/>
<text x="566.3" y="1189.5" font-size="17.5">CD86<tspan font-size="11.5" dy="-7">-/-</tspan><tspan dy="7">NOD</tspan></text>
<text x="566.3" y="1213" font-size="17.5">NOR/LtJ</text>
<text x="566.3" y="1234.5" font-size="17.5">C57Bl/6</text>
</svg>
</body></html>
